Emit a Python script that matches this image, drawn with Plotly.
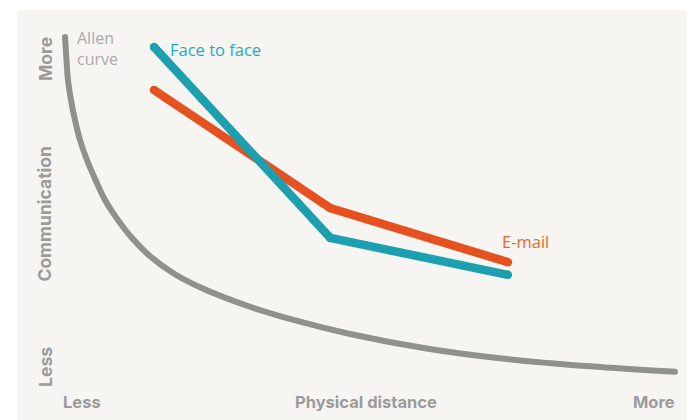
import plotly.graph_objects as go

# Data (abstract units: distance 0-100, communication 0-100)
stages = [20.2, 46.2, 72.4]
face_to_face = [91.0, 44.4, 35.4]
email = [80.5, 51.7, 38.5]

allen_x = [7.08, 7.30, 7.52, 7.96, 8.55, 9.29, 10.32, 11.58, 12.98, 14.75, 16.81,
           19.62, 23.30, 26.99, 34.37, 41.74, 49.12, 60.18, 71.24, 84.51, 97.05]
allen_y = [93.41, 87.80, 82.93, 78.05, 73.17, 68.29, 63.41, 58.54, 53.66, 49.12, 44.68,
           39.95, 35.56, 32.39, 27.63, 23.98, 20.98, 17.51, 15.05, 13.10, 11.76]

GRAY = "#91918c"
TEAL = "#1c9fae"
ORANGE = "#e6521f"
LABEL = "#9b9b9b"

fig = go.Figure()
fig.add_trace(go.Scatter(x=allen_x, y=allen_y, mode="lines",
                         line=dict(color=GRAY, width=6, shape="spline", smoothing=1.0),
                         hoverinfo="skip"))
fig.add_trace(go.Scatter(x=[allen_x[0], allen_x[-1]], y=[allen_y[0], allen_y[-1]], mode="markers",
                         marker=dict(color=GRAY, size=6, line=dict(width=0)), hoverinfo="skip"))
for ys, c in [(email, ORANGE), (face_to_face, TEAL)]:
    fig.add_trace(go.Scatter(x=stages, y=ys, mode="lines",
                             line=dict(color=c, width=8.5), hoverinfo="skip"))
    fig.add_trace(go.Scatter(x=stages, y=ys, mode="markers",
                             marker=dict(color=c, size=8.5, line=dict(width=0)), hoverinfo="skip"))

ann_font = "Open Sans"
axis_font = dict(family="Inter, Roboto, sans-serif", size=16.5, color=LABEL)
axis_font_v = dict(family="Inter, Roboto, sans-serif", size=17.5, color=LABEL)
annotations = [
    dict(x=8.6, y=90.6, text="Allen<br>curve", xanchor="left", yanchor="middle", align="left",
         font=dict(family=ann_font, size=16, color="#ababab")),
    dict(x=22.2, y=90.3, text="Face to face", xanchor="left", yanchor="middle",
         font=dict(family=ann_font, size=16.5, color="#19aebf")),
    dict(x=71.3, y=43.6, text="E-mail", xanchor="left", yanchor="middle",
         font=dict(family=ann_font, size=16.5, color="#f0652b")),
    dict(x=6.5, y=4.5, text="<b>Less</b>", xanchor="left", yanchor="middle", font=axis_font),
    dict(x=51.5, y=4.5, text="<b>Physical distance</b>", xanchor="center", yanchor="middle", font=axis_font),
    dict(x=97.3, y=4.5, text="<b>More</b>", xanchor="right", yanchor="middle", font=axis_font),
    dict(x=4.1, y=88.0, text="<b>More</b>", textangle=-90, xanchor="center", yanchor="middle", font=axis_font_v),
    dict(x=4.1, y=50.3, text="<b>Communication</b>", textangle=-90, xanchor="center", yanchor="middle", font=axis_font_v),
    dict(x=4.1, y=12.9, text="<b>Less</b>", textangle=-90, xanchor="center", yanchor="middle", font=axis_font_v),
]
for a in annotations:
    a.update(xref="x", yref="y", showarrow=False)

# page body has an 8px default margin: shift the figure so the panel lands at (17,10)-(695,420)
fig.update_layout(
    width=687, height=412,
    margin=dict(l=9, r=0, t=2, b=0),
    paper_bgcolor="white",
    plot_bgcolor="#f6f5f1",
    showlegend=False,
    annotations=annotations,
    xaxis=dict(range=[0, 100], visible=False, fixedrange=True),
    yaxis=dict(range=[0, 100], visible=False, fixedrange=True),
)
fig.write_html("out.html")
